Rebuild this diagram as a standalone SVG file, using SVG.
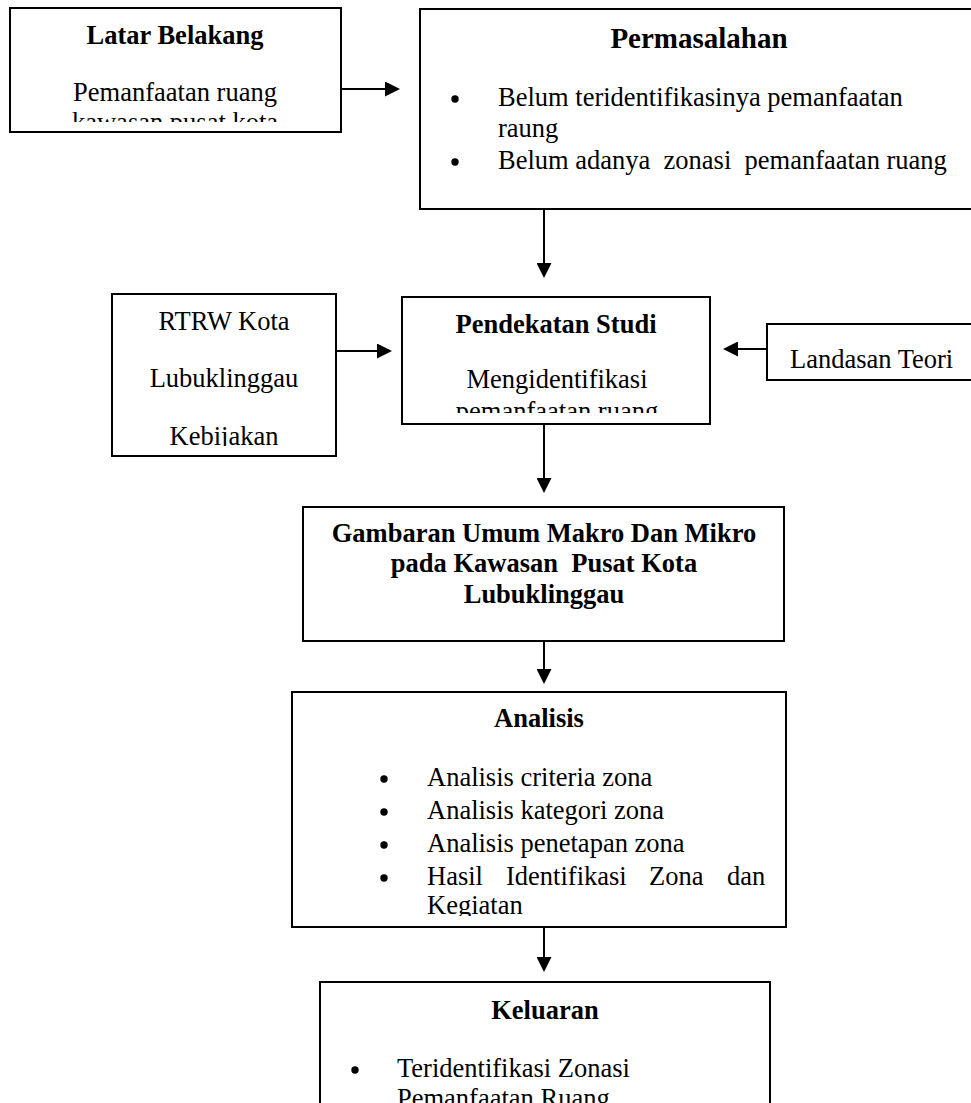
<svg xmlns="http://www.w3.org/2000/svg" width="971" height="1103" viewBox="0 0 971 1103">
<style>
.box{fill:#fff;stroke:#000;stroke-width:2}
.t{font-family:"Liberation Serif","Times New Roman",serif;font-size:26.5px;fill:#000}
.b{font-weight:bold}
.c{text-anchor:middle}
.dot{fill:#000}
.conn line{stroke:#000;stroke-width:2;marker-end:url(#ah)}
</style>
<defs>
<marker id="ah" markerUnits="userSpaceOnUse" markerWidth="15" markerHeight="15" refX="13" refY="7.5" orient="auto">
<path d="M0,0 L15,7.5 L0,15 Z" fill="#000"/>
</marker>
<clipPath id="clipLatar"><rect x="10" y="60" width="331" height="62"/></clipPath>
<clipPath id="clipPend"><rect x="402" y="350" width="308" height="63"/></clipPath>
<clipPath id="clipRtrw"><rect x="112" y="294" width="224" height="152"/></clipPath>
<clipPath id="clipAnal"><rect x="292" y="692" width="494" height="224"/></clipPath>
</defs>

<g id="connectors" class="conn">
<line x1="341" y1="89" x2="398" y2="89"/>
<line x1="544" y1="209" x2="544" y2="276"/>
<line x1="336" y1="351" x2="390" y2="351"/>
<line x1="767" y1="349" x2="725" y2="349"/>
<line x1="544" y1="424" x2="544" y2="491"/>
<line x1="544" y1="641" x2="544" y2="682"/>
<line x1="544" y1="927" x2="544" y2="970"/>
</g>

<g id="latar-belakang">
<rect class="box" x="10" y="8" width="331" height="124"/>
<text class="t b c" x="175" y="44">Latar Belakang</text>
<g clip-path="url(#clipLatar)">
<text class="t c" x="175" y="101">Pemanfaatan ruang</text>
<text class="t c" x="175" y="131">kawasan pusat kota</text>
</g>
</g>

<g id="permasalahan">
<rect class="box" x="420" y="9" width="560" height="200"/>
<text class="t b c" x="699" y="48" style="font-size:29px">Permasalahan</text>
<circle class="dot" cx="455" cy="99" r="3.7"/>
<text class="t" x="498" y="106">Belum teridentifikasinya pemanfaatan</text>
<text class="t" x="498" y="137">raung</text>
<circle class="dot" cx="455" cy="162" r="3.7"/>
<text class="t" x="498" y="169" xml:space="preserve">Belum adanya  zonasi  pemanfaatan ruang</text>
</g>

<g id="rtrw">
<rect class="box" x="112" y="294" width="224" height="162"/>
<g clip-path="url(#clipRtrw)">
<text class="t c" x="224" y="330">RTRW Kota</text>
<text class="t c" x="224" y="387">Lubuklinggau</text>
<text class="t c" x="224" y="445">Kebijakan</text>
</g>
</g>

<g id="pendekatan-studi">
<rect class="box" x="402" y="297" width="308" height="127"/>
<text class="t b c" x="556" y="333">Pendekatan Studi</text>
<text class="t c" x="557" y="388">Mengidentifikasi</text>
<g clip-path="url(#clipPend)">
<text class="t c" x="557" y="420">pemanfaatan ruang</text>
</g>
</g>

<g id="landasan-teori">
<rect class="box" x="767" y="324" width="220" height="56"/>
<text class="t" x="790" y="368">Landasan Teori</text>
</g>

<g id="gambaran-umum">
<rect class="box" x="303" y="507" width="481" height="134"/>
<text class="t b c" x="544" y="542">Gambaran Umum Makro Dan Mikro</text>
<text class="t b c" x="544" y="572" xml:space="preserve">pada Kawasan  Pusat Kota</text>
<text class="t b c" x="544" y="603">Lubuklinggau</text>
</g>

<g id="analisis">
<rect class="box" x="292" y="692" width="494" height="235"/>
<text class="t b c" x="539" y="727">Analisis</text>
<circle class="dot" cx="384" cy="779" r="3.7"/>
<text class="t" x="427" y="786">Analisis criteria zona</text>
<circle class="dot" cx="384" cy="812" r="3.7"/>
<text class="t" x="427" y="819">Analisis kategori zona</text>
<circle class="dot" cx="384" cy="845" r="3.7"/>
<text class="t" x="427" y="852">Analisis penetapan zona</text>
<circle class="dot" cx="384" cy="878" r="3.7"/>
<text class="t" y="885"><tspan x="427">Hasil</tspan> <tspan x="506">Identifikasi</tspan> <tspan x="649">Zona</tspan> <tspan x="727">dan</tspan></text>
<g clip-path="url(#clipAnal)">
<text class="t" x="427" y="914">Kegiatan</text>
</g>
</g>

<g id="keluaran">
<rect class="box" x="320" y="982" width="450" height="140"/>
<text class="t b c" x="545" y="1019">Keluaran</text>
<circle class="dot" cx="355" cy="1070" r="3.7"/>
<text class="t" x="397" y="1077">Teridentifikasi Zonasi</text>
<text class="t" x="397" y="1107">Pemanfaatan Ruang</text>
</g>
</svg>
